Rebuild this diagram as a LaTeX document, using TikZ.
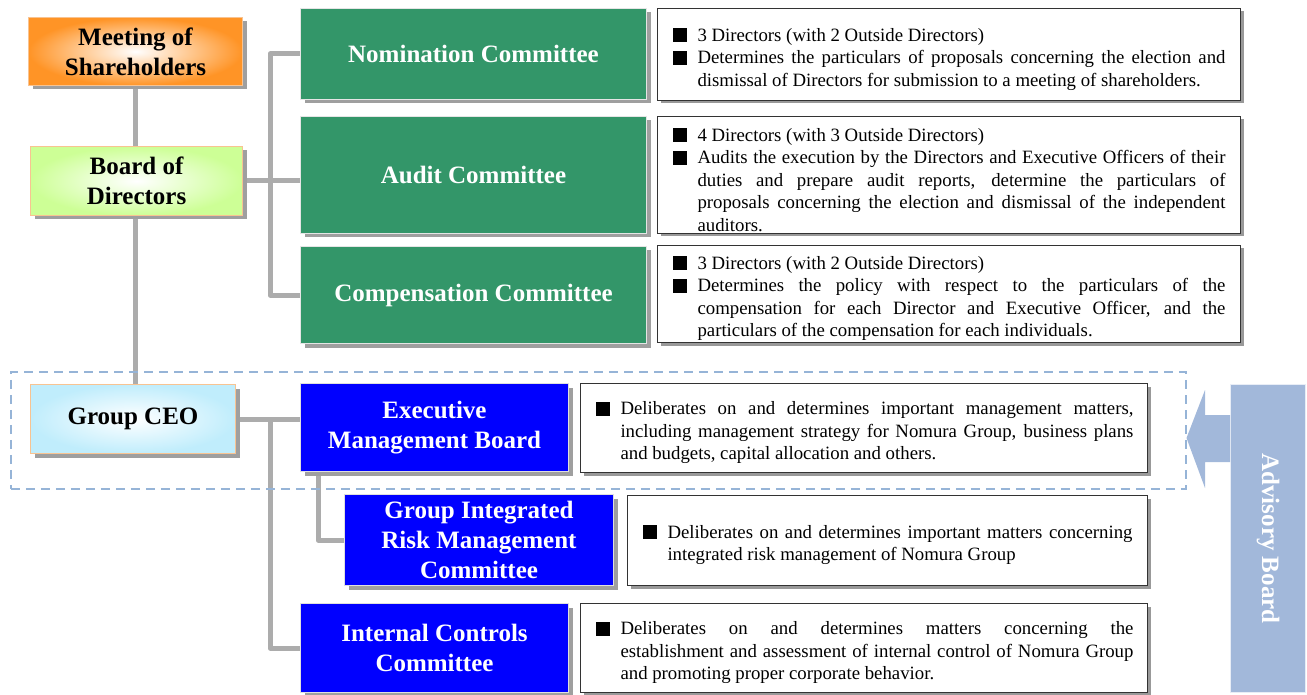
\documentclass[tikz,border=0pt]{standalone}
\usepackage{fontspec}
\setmainfont{Liberation Serif}
\usetikzlibrary{shadows,backgrounds}
\definecolor{comgreen}{RGB}{51,150,105}
\definecolor{exblue}{RGB}{0,0,255}
\definecolor{advblue}{RGB}{162,184,218}
\definecolor{dashblue}{RGB}{150,180,215}
\definecolor{meetorange}{RGB}{255,148,38}
\definecolor{boardgreen}{RGB}{205,255,150}
\definecolor{ceocyan}{RGB}{192,237,252}
\definecolor{peach}{RGB}{248,195,145}
\newcommand\sqitem[2][528pt]{\par\noindent\makebox[25pt][l]{\rule[-1pt]{14pt}{14pt}}\parbox[t]{#1}{\leftskip=0pt\rightskip=0pt\parfillskip=0pt plus 1fil\noindent#2}\par}

\begin{document}
\begin{tikzpicture}[x=1pt,y=-1pt,
  shd/.style={drop shadow={shadow xshift=4pt,shadow yshift=-4pt,fill=gray!75,opacity=1}},
  top/.style={shd,anchor=north west,inner sep=0pt,draw=peach,line width=1pt,font=\fontsize{25}{30}\selectfont\bfseries,align=center},
  com/.style={shd,anchor=north west,inner sep=0pt,fill=comgreen,draw=white!80!gray,line width=1pt,text=white,font=\fontsize{25}{30}\selectfont\bfseries,align=center},
  exe/.style={com,fill=exblue,draw=gray!25},
  desc/.style={anchor=north west,fill=white,draw=black!80,line width=1pt,inner xsep=15pt,inner ysep=0pt,font=\fontsize{18.8}{22.5}\selectfont,align=justify,drop shadow={shadow xshift=3pt,shadow yshift=-3pt,fill=gray!80,opacity=1}},
  link/.style={draw=gray!65,line width=5pt,line join=round},
  dashbox/.style={anchor=north west,inner sep=0pt,draw=dashblue,line width=1.5pt,dash pattern=on 9pt off 6pt}]
\useasboundingbox (0,0) rectangle (1307,695);

\node[top,inner color=white,outer color=meetorange,minimum width=214pt,minimum height=68pt] (meet) at (28,17) {Meeting of\\Shareholders};
\node[top,inner color=white,outer color=boardgreen,minimum width=212pt,minimum height=69pt] (board) at (30,146) {Board of\\Directors};
\node[top,inner color=white,outer color=ceocyan,minimum width=205pt,minimum height=69pt] (ceo) at (30,384) {Group CEO};

\node[com,minimum width=346pt,minimum height=91pt] (nom) at (300,8) {Nomination Committee};
\node[com,minimum width=346pt,minimum height=117pt] (aud) at (300,116) {Audit Committee};
\node[com,minimum width=346pt,minimum height=97pt] (comp) at (300,246) {Compensation Committee};

\node[desc,text width=553pt,minimum height=92pt] (nomd) at (657,8) {\sqitem{3 Directors (with 2 Outside Directors)}\sqitem{Determines the particulars of proposals concerning the election and\linebreak dismissal of Directors for submission to a meeting of shareholders.}};
\node[desc,text width=553pt,minimum height=117pt] (audd) at (657,116) {\sqitem{4 Directors (with 3 Outside Directors)}\sqitem{Audits the execution by the Directors and Executive Officers of their\linebreak duties and prepare audit reports, determine the particulars of\linebreak proposals concerning the election and dismissal of the independent\linebreak auditors.}};
\node[desc,text width=553pt,minimum height=97pt] (compd) at (657,245) {\sqitem{3 Directors (with 2 Outside Directors)}\sqitem{Determines the policy with respect to the particulars of the\linebreak compensation for each Director and Executive Officer, and the\linebreak particulars of the compensation for each individuals.}};

\node[exe,minimum width=268pt,minimum height=88pt] (exec) at (300,383) {Executive\\Management Board};
\node[exe,minimum width=269pt,minimum height=91pt] (girm) at (344,494) {Group Integrated\\Risk Management\\Committee};
\node[exe,minimum width=268pt,minimum height=89pt] (ic) at (300,603) {Internal Controls\\Committee};

\node[desc,text width=537pt,minimum height=89pt] (execd) at (580,383) {\sqitem[513pt]{Deliberates on and determines important management matters,\linebreak including management strategy for Nomura Group, business plans\linebreak and budgets, capital allocation and others.}};
\node[desc,text width=490pt,minimum height=90pt] (girmd) at (627,495) {\sqitem[465pt]{Deliberates on and determines important matters concerning\linebreak integrated risk management of Nomura Group}};
\node[desc,text width=537pt,minimum height=89pt] (icd) at (580,603) {\sqitem[513pt]{Deliberates on and determines matters concerning the\linebreak establishment and assessment of internal control of Nomura Group\linebreak and promoting proper corporate behavior.}};

\node[anchor=north west,inner sep=0pt,fill=advblue,draw=white!75!advblue,line width=1pt,minimum width=75pt,minimum height=308pt] (adv) at (1230,384) {};
\node[rotate=-90,text=white,font=\fontsize{25}{30}\selectfont\bfseries] (advtxt) at (adv) {Advisory Board};

\begin{scope}[on background layer]
\draw[link] (meet) -- (ceo.north -| meet);
\coordinate (bbus) at (270,183);
\draw[link] (board.east) -- (aud.west |- board.east);
\draw[link] (nom.west) -| (bbus) |- (comp.west);
\coordinate (cbus) at (270,419);
\draw[link] (ceo.east) -- (exec.west |- ceo.east);
\draw[link] (cbus) |- (ic.west);
\draw[link] ([xshift=18pt]exec.south west) |- (girm.west);
\node[dashbox,minimum width=1175pt,minimum height=117pt] (mgmt) at (10,371) {};
\end{scope}
\fill[advblue] (adv.west |- 0,415) -- (1205,415) -- (1205,390) -- (mgmt.east |- 0,438) -- (1205,488) -- (1205,462) -- (adv.west |- 0,462) -- cycle;
\end{tikzpicture}
\end{document}
